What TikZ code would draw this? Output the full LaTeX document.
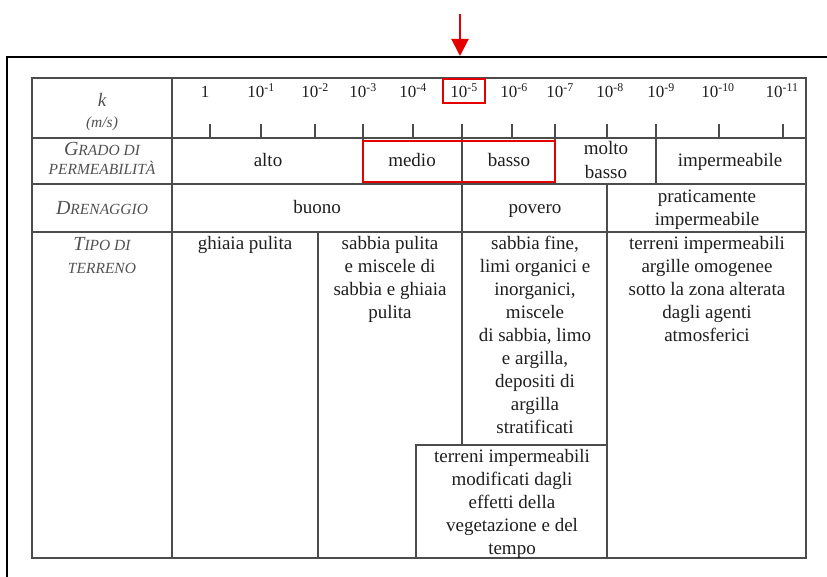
\documentclass[tikz,border=0pt]{standalone}
\usepackage{fontspec}
\setmainfont{Liberation Serif}
\usetikzlibrary{arrows.meta}
\newcommand\cellfont{\fontsize{19}{23}\selectfont}
\newcommand\numfont{\fontsize{17}{20}\selectfont}
\newcommand\fakesc[2]{{\fontsize{20}{20}\selectfont #1}{\fontsize{15.5}{15.5}\selectfont #2}}
\begin{document}
\begin{tikzpicture}[x=1pt,y=-1pt,
  tline/.style={draw=black!70,line width=1.3pt},
  redframe/.style={draw=red!90!black,line width=2.2pt},
  cell/.style={font=\cellfont,align=center,text=black!88,inner sep=0pt,anchor=base},
  para/.style={font=\cellfont,align=center,text=black!88,inner sep=0pt,anchor=north},
  num/.style={font=\numfont,text=black!88,inner sep=0pt,anchor=base},
  head/.style={font=\itshape,text=black!68,inner sep=0pt,anchor=base},
]
\useasboundingbox (0,0) rectangle (827,577);
\clip (0,0) rectangle (827,577);
\fill[white] (0,0) rectangle (827,577);
% outer frame
\draw[line width=2.6pt,black] (7,600) -- (7,57) -- (850,57);
% red arrow
\coordinate (arrtop) at (460,14);
\coordinate (arrtip) at (460,56);
\draw[red!90!black,line width=2pt,-{Triangle[length=17pt,width=17pt]}] (arrtop) -- (arrtip);
% table
\draw[tline] (32,78) rectangle (806,558);
\draw[tline] (32,138) -- (806,138);
\draw[tline] (32,184) -- (806,184);
\draw[tline] (32,232) -- (806,232);
\draw[tline] (172,78) -- (172,558);
% ticks
\foreach \x in {210,261,315,363,413,462,512,555,607,656,719,783}
  \draw[tline] (\x,124) -- (\x,138);
% row 2 separators
\foreach \x in {363,462,555,656}
  \draw[tline] (\x,138) -- (\x,184);
% row 3 separators
\foreach \x in {462,607}
  \draw[tline] (\x,184) -- (\x,232);
% row 4 separators
\draw[tline] (318,232) -- (318,558);
\draw[tline] (462,232) -- (462,445);
\draw[tline] (607,232) -- (607,558);
\draw[tline] (416,558) -- (416,445) -- (607,445);
% red boxes
\draw[redframe,line width=1.8pt] (443,79) rectangle (485,103);
\draw[redframe,line width=2.6pt] (363,141) rectangle (555,182);
% header column
\node[head,font=\itshape\fontsize{19}{19}\selectfont] (klab) at (102,107) {k};
\node[head,font=\itshape\fontsize{15.5}{15.5}\selectfont] (unit) at (102,128) {(m/s)};
\node[head] (grado1) at (102,156) {\fakesc{G}{RADO DI}};
\node[head] (grado2) at (102,175) {\fakesc{}{PERMEABILITÀ}};
\node[head] (dren) at (102,215) {\fakesc{D}{RENAGGIO}};
\node[head] (tipo1) at (102,251) {\fakesc{T}{IPO DI}};
\node[head] (tipo2) at (102,273) {\fakesc{}{TERRENO}};
% k values
\node[num] (v0) at (205,98) {1};
\node[num] (v1) at (261,98) {10\textsuperscript{-1}};
\node[num] (v2) at (315,98) {10\textsuperscript{-2}};
\node[num] (v3) at (363,98) {10\textsuperscript{-3}};
\node[num] (v4) at (413,98) {10\textsuperscript{-4}};
\node[num] (v5) at (464,98) {10\textsuperscript{-5}};
\node[num] (v6) at (514,98) {10\textsuperscript{-6}};
\node[num] (v7) at (560,98) {10\textsuperscript{-7}};
\node[num] (v8) at (610,98) {10\textsuperscript{-8}};
\node[num] (v9) at (661,98) {10\textsuperscript{-9}};
\node[num] (v10) at (718,98) {10\textsuperscript{-10}};
\node[num] (v11) at (782,98) {10\textsuperscript{-11}};
% row 2
\node[cell] (alto) at (268,167) {alto};
\node[cell] (medio) at (412,167) {medio};
\node[cell] (basso) at (509,167) {basso};
\node[cell] (molto) at (606,155) {molto};
\node[cell] (mbasso) at (606,179) {basso};
\node[cell] (imperm) at (730,167) {impermeabile};
% row 3
\node[cell] (buono) at (317,214) {buono};
\node[cell] (povero) at (535,214) {povero};
\node[cell] (prat1) at (707,203) {praticamente};
\node[cell] (prat2) at (707,226) {impermeabile};
% row 4
\node[para] (ghiaia) at (245,236) {ghiaia pulita};
\node[para] (sabbia) at (390,236) {sabbia pulita\\e miscele di\\sabbia e ghiaia\\pulita};
\node[para] (fine) at (535,236) {sabbia fine,\\limi organici e\\inorganici,\\miscele\\di sabbia, limo\\e argilla,\\depositi di\\argilla\\stratificati};
\node[para] (terreni) at (707,236) {terreni impermeabili\\argille omogenee\\sotto la zona alterata\\dagli agenti\\atmosferici};
\node[para] (modif) at (512,449) {terreni impermeabili\\modificati dagli\\effetti della\\vegetazione e del\\tempo};
\end{tikzpicture}
\end{document}
